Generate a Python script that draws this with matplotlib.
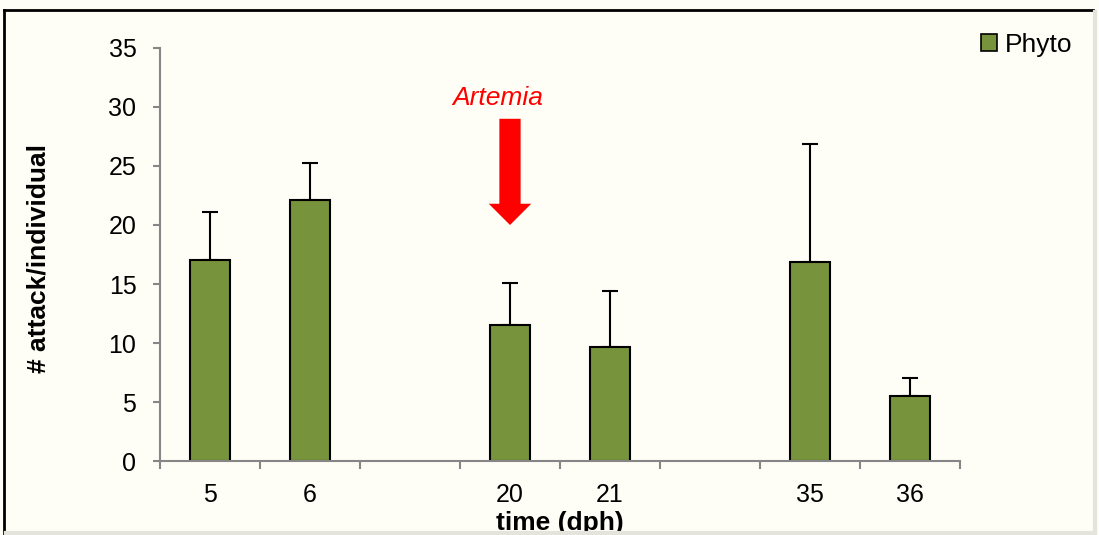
import matplotlib
matplotlib.use("Agg")
import matplotlib.pyplot as plt
from matplotlib.lines import Line2D
import numpy as np

plt.rcParams['font.family'] = ['Liberation Sans', 'DejaVu Sans']

categories = ['5', '6', '', '20', '21', '', '35', '36']
means = [17.0, 22.1, None, 11.5, 9.65, None, 16.9, 5.5]
errors = [4.1, 3.15, None, 3.6, 4.75, None, 10.0, 1.5]
series_name = 'Phyto'

bar_color = '#77933C'
bg = '#FEFEF6'
W, H = 1099, 535

fig = plt.figure(figsize=(10.99, 5.35), dpi=100, facecolor=bg)
ax = fig.add_axes([0.1456, 0.1383, 0.8735 - 0.1456, 0.9103 - 0.1383])
ax.set_facecolor(bg)

x = np.arange(len(categories))
idx = [i for i, m in enumerate(means) if m is not None]
vals = [means[i] for i in idx]
errs = [errors[i] for i in idx]
ax.bar(idx, vals, width=0.4, color=bar_color, edgecolor='black', linewidth=1.5,
       label=series_name, zorder=2)
ax.errorbar(idx, vals, yerr=[np.zeros(len(errs)), errs], fmt='none', ecolor='black',
            elinewidth=1.5, capsize=6, capthick=1.5, zorder=1)

ax.set_xlim(-0.5, len(categories) - 0.5)
ax.set_ylim(0, 35)
ax.set_yticks(np.arange(0, 36, 5))
ax.set_xticks(x)
ax.set_xticklabels(categories)
ax.set_xticks(np.arange(-0.5, len(categories), 1), minor=True)
ax.tick_params(axis='x', which='major', length=0, pad=16, labelsize=18)
ax.tick_params(axis='x', which='minor', length=6, width=1.5, color='#868686', direction='out')
ax.tick_params(axis='y', length=5, width=1.5, color='#868686', labelsize=18, pad=12)

for s in ['top', 'right']:
    ax.spines[s].set_visible(False)
for s in ['left', 'bottom']:
    ax.spines[s].set_color('#868686')
    ax.spines[s].set_linewidth(1.5)

ax.set_ylabel('# attack/individual', fontsize=19, fontweight='bold')
ax.yaxis.set_label_coords(-0.137, 0.49)
ax.set_xlabel('time (dph)', fontsize=19, fontweight='bold')
ax.xaxis.set_label_coords(0.5, -0.12)

# Artemia arrow annotation
ax.annotate('', xy=(3, 20), xytext=(3, 29),
            arrowprops=dict(arrowstyle='simple,head_length=0.9,head_width=1.8,tail_width=0.9',
                            mutation_scale=17, color='red', shrinkA=0, shrinkB=0, lw=0))
ax.text(2.88, 30.8, 'Artemia', color='red', fontsize=19, style='italic',
        ha='center', va='center')

# legend
leg = fig.legend(loc='center left', bbox_to_anchor=(981 / W, 1 - 45 / H), frameon=False,
                 fontsize=19, handlelength=0.6, handleheight=0.6, handletextpad=0.3,
                 borderaxespad=0, borderpad=0)
for h in leg.legend_handles:
    h.set_linewidth(1.2)

# outer frame
fig.add_artist(Line2D([4 / W, 1093 / W], [1 - 10 / H, 1 - 10 / H], color='black', lw=2,
                      transform=fig.transFigure))
fig.add_artist(Line2D([4 / W, 4 / W], [1 - 10 / H, 0], color='black', lw=2,
                      transform=fig.transFigure))
fig.add_artist(Line2D([1095 / W, 1095 / W], [1 - 12 / H, 1 - 533 / H], color='#E4E4DC', lw=3,
                      transform=fig.transFigure))
fig.add_artist(Line2D([6 / W, 1095 / W], [1 - 533 / H, 1 - 533 / H], color='#E4E4DC', lw=3,
                      transform=fig.transFigure))

fig.savefig('out.png', dpi=100, facecolor=bg)
